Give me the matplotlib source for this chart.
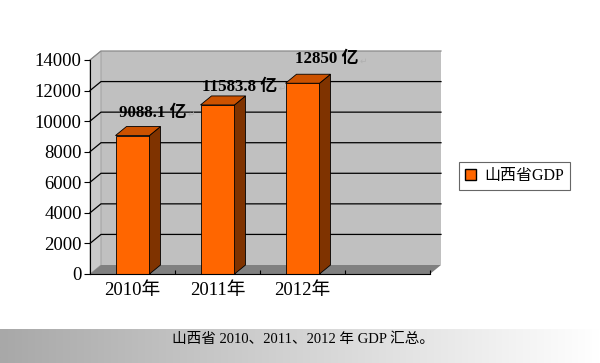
import numpy as np
import matplotlib.pyplot as plt
from matplotlib.patches import Polygon, Patch
from matplotlib.colors import LinearSegmentedColormap

plt.rcParams['font.family'] = ['Liberation Serif', 'Noto Sans CJK SC', 'DejaVu Sans']

# data
years = ['2010年', '2011年', '2012年']
gdp_text = ['9088.1', '11583.8', '12850']       # values written in the labels
bar_heights = [9060, 11060, 12480]               # bar heights as drawn
yticks = list(range(0, 14001, 2000))
series_name = '山西省GDP'
caption = '山西省 2010、2011、2012 年 GDP 汇总。'

# label offsets from the bar top (pixels)
label_offsets = [(20, 23), (22, 18), (24, 24)]

W, H = 600, 363
fig = plt.figure(figsize=(W / 100, H / 100), dpi=100)
ax = fig.add_axes([90 / W, (H - 274) / H, 340 / W, 214 / H])
ax.set_xlim(-0.5, 3.5)
ax.set_ylim(0, 14000)
ax.patch.set_visible(False)
ax.spines['top'].set_visible(False)
ax.spines['right'].set_visible(False)

# depth of the fake 3d, converted from pixels to data units
o = ax.transData.transform((0, 0))
dx, dy = ax.transData.inverted().transform(o + np.array([11, 9]))
x0, x1 = ax.get_xlim()
top = ax.get_ylim()[1]

def poly(pts, fc, ec='none', z=0, lw=0.6):
    ax.add_patch(Polygon(pts, closed=True, facecolor=fc, edgecolor=ec,
                         lw=lw, zorder=z, clip_on=False))

# walls and floor
poly([(x0 + dx, dy), (x1 + dx, dy), (x1 + dx, top + dy), (x0 + dx, top + dy)], '#C0C0C0', z=0)
poly([(x0, 0), (x0 + dx, dy), (x0 + dx, top + dy), (x0, top)], '#CACACA', ec='#9A9A9A', z=0.5)
poly([(x0, 0), (x1, 0), (x1 + dx, dy), (x0 + dx, dy)], '#808080', z=1.5)

for y in yticks[1:]:
    c = '#8A8A8A' if y == top else 'black'
    ax.plot([x0, x0 + dx, x1 + dx], [y, y + dy, y + dy], color=c, lw=0.9,
            clip_on=False, zorder=1)

# bars
x = np.arange(len(years))
bars = ax.bar(x, bar_heights, width=0.4, color='#FF6600', edgecolor='black',
              lw=0.6, zorder=3)
for r in bars:
    xl = r.get_x()
    xr = xl + r.get_width()
    h = r.get_height()
    poly([(xr, 0), (xr + dx, dy), (xr + dx, h + dy), (xr, h)], '#7F3300', ec='black', z=3)
    poly([(xl, h), (xr, h), (xr + dx, h + dy), (xl + dx, h + dy)], '#CC5200', ec='black', z=3)

# value labels
for xi, h, t, (ox, oy) in zip(x, bar_heights, gdp_text, label_offsets):
    ann = ax.annotate(f'{t} 亿', xy=(xi, h), xytext=(ox * 0.72, oy * 0.72),
                      textcoords='offset points', ha='center', va='center',
                      fontsize=12.2, fontweight='bold', zorder=5)
    ax.annotate('↵', xy=(1, 0.4), xycoords=ann, xytext=(1, 0),
                textcoords='offset points', ha='left', va='center',
                fontsize=6.5, color='#B0B0B0', family='DejaVu Sans')

# axes
ax.set_yticks(yticks)
ax.tick_params(axis='y', direction='out', length=4, width=0.8, pad=2, labelsize=13.5)
ax.set_xticks(x)
ax.set_xticklabels(years)
ax.set_xticks(np.arange(0.5, 4, 1), minor=True)
ax.tick_params(axis='x', which='major', length=0, pad=6, labelsize=13.5)
ax.tick_params(axis='x', which='minor', direction='in', length=3, width=0.8)
ax.spines['left'].set_zorder(4)
ax.spines['bottom'].set_zorder(4)

# legend
leg = fig.legend([Patch(facecolor='#FF6600', edgecolor='black')], [series_name],
                 loc='center', bbox_to_anchor=(514.5 / W, 1 - 176 / H),
                 frameon=True, fancybox=False, edgecolor='#404040', fontsize=11.5,
                 handlelength=0.7, handleheight=0.7, handletextpad=0.5,
                 borderpad=0.35, borderaxespad=0)
leg.get_frame().set_linewidth(0.8)

# caption band
bax = fig.add_axes([0, 0, 1, 34 / H])
grad = np.linspace(0, 1, 256)[None, :]
bax.imshow(grad, cmap=LinearSegmentedColormap.from_list('band', ['#A8A8A8', '#FFFFFF']),
           aspect='auto', extent=[0, 1, 0, 1])
bax.axis('off')
fig.text(303 / W, 1 - 339 / H, caption, ha='center', va='center', fontsize=10.5)

fig.savefig('out.png', dpi=100)
